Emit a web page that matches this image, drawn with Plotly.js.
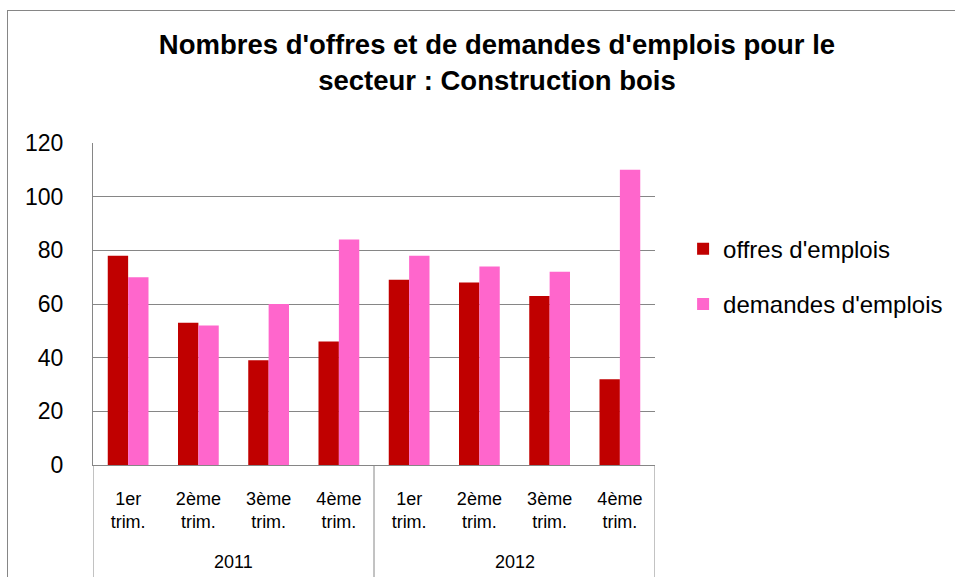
<!DOCTYPE html>
<html><head><meta charset="utf-8">
<script src="https://cdn.plot.ly/plotly-3.0.1.min.js"></script>
<style>
html,body{margin:0;padding:0;background:#fff;overflow:hidden}
#frame{position:absolute;left:7px;top:10px;width:1000px;height:640px;border:1px solid #868686;box-sizing:border-box}
#chart{position:absolute;left:0;top:0;width:955px;height:577px}
</style></head>
<body><div id="frame"></div><div id="chart"></div>
<script>
const years = ['2011', '2012'];
const quarters = ['1er<br>trim.', '2ème<br>trim.', '3ème<br>trim.', '4ème<br>trim.'];
const offres = [78, 53, 39, 46, 69, 68, 63, 32];
const demandes = [70, 52, 60, 84, 78, 74, 72, 110];
const seriesNames = ["offres d'emplois", "demandes d'emplois"];
const colors = ['#C00000', '#FF66CC'];

const FONT = '"Liberation Sans", Arial, sans-serif';
const GRID = '#868686';
const xs = offres.map((_, i) => i);
const tickText = years.flatMap(() => quarters);
const nQ = quarters.length;

const traces = [offres, demandes].map((vals, k) => ({
  type: 'bar', x: xs, y: vals, name: seriesNames[k],
  marker: {color: colors[k], line: {width: 0}},
  legendgroup: 'g' + k, hoverinfo: 'y'
}));

const shapes = [];
for (let b = 0; b <= years.length; b++) {
  shapes.push({type: 'line', xref: 'x', yref: 'paper', x0: b * nQ - 0.5, x1: b * nQ - 0.5,
    y0: 0, y1: -0.5, line: {color: GRID, width: 1}});
}
const annotations = years.map((yr, i) => ({
  text: yr, xref: 'x', yref: 'paper', x: i * nQ + (nQ - 1) / 2, y: -0.30,
  showarrow: false, yanchor: 'middle', font: {family: FONT, size: 18, color: '#000'}
}));

const layout = {
  width: 955, height: 577,
  margin: {l: 93, r: 300, t: 143, b: 112, pad: 0, autoexpand: false},
  paper_bgcolor: 'rgba(0,0,0,0)', plot_bgcolor: 'rgba(0,0,0,0)',
  font: {family: FONT, color: '#000'},
  title: {
    text: "<b>Nombres d'offres et de demandes d'emplois pour le<br>secteur : Construction bois</b>",
    font: {family: FONT, size: 27.5, color: '#000'},
    x: 497 / 955, xanchor: 'center', xref: 'container',
    y: 1 - 54 / 577, yanchor: 'top', yref: 'container'
  },
  barmode: 'group', bargap: 0.42, bargroupgap: 0,
  xaxis: {
    range: [-0.5, xs.length - 0.5], tickmode: 'array', tickvals: xs, ticktext: tickText,
    showgrid: false, zeroline: false, showline: true, linecolor: GRID, linewidth: 1,
    ticks: '', ticklabelstandoff: 17, automargin: false,
    tickfont: {family: FONT, size: 18, color: '#000'}, fixedrange: true
  },
  yaxis: {
    range: [0, 120], dtick: 20, tick0: 0,
    showgrid: true, gridcolor: GRID, gridwidth: 1, zeroline: false,
    showline: true, linecolor: GRID, linewidth: 1,
    ticks: '', ticklabelstandoff: 24, automargin: false,
    tickfont: {family: FONT, size: 23, color: '#000'}, fixedrange: true
  },
  legend: {
    x: 1.05, xanchor: 'left', y: 0.74, yanchor: 'top',
    font: {family: FONT, size: 24, color: '#000'},
    tracegroupgap: 21, bgcolor: 'rgba(0,0,0,0)', itemwidth: 30
  },
  shapes: shapes, annotations: annotations, showlegend: true
};

Plotly.newPlot('chart', traces, layout, {displayModeBar: false, staticPlot: true});
</script></body></html>
